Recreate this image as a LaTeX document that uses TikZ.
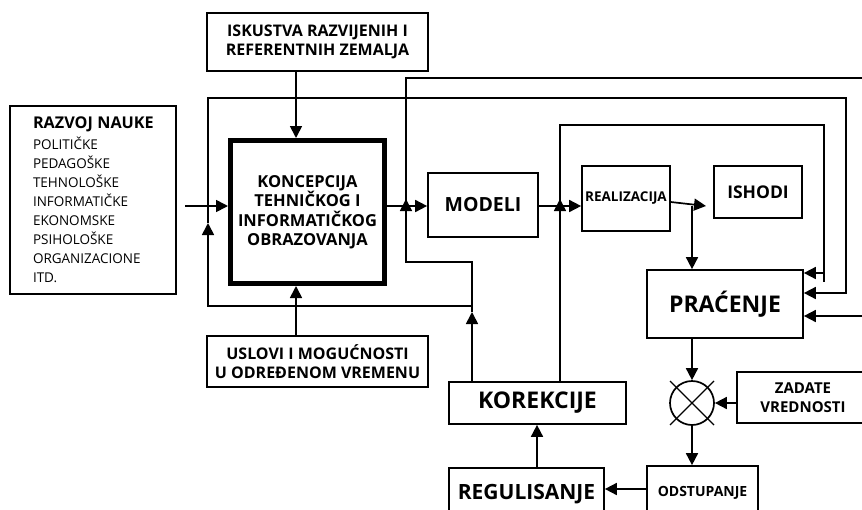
\documentclass[tikz,border=0pt]{standalone}
\usepackage{fontspec}
\setmainfont{Open Sans}
\usetikzlibrary{arrows.meta}
\begin{document}
\begin{tikzpicture}[x=1pt,y=-1pt,
  ln/.style={line width=1.7pt},
  box/.style={draw, ln, inner sep=0pt, align=center},
  arr/.style={ln, -{Triangle[length=12pt,width=12pt]}},
  fa/.style={font=\fontsize{16}{18.5}\selectfont\bfseries},
  fb/.style={font=\fontsize{23}{26}\selectfont\bfseries}
]
\useasboundingbox (0,0) rectangle (862,509);
\clip (0,0) rectangle (862,509);

% ---- blocks ----
\node[box, fa, minimum width=221pt, minimum height=58pt] (isk) at (317.5,42)
  {ISKUSTVA RAZVIJENIH I\\REFERENTNIH ZEMALJA};
\node[box, minimum width=166pt, minimum height=188pt, text width=130pt,
      inner xsep=18pt, align=left, font=\fontsize{13.5}{19}\selectfont] (raz) at (93,200)
  {\hspace*{5pt}{\fontsize{16.2}{19}\selectfont\bfseries RAZVOJ NAUKE}\\[2pt]
   \hspace*{5pt}POLITIČKE\\\hspace*{5pt}PEDAGOŠKE\\\hspace*{5pt}TEHNOLOŠKE\\
   \hspace*{5pt}INFORMATIČKE\\\hspace*{5pt}EKONOMSKE\\\hspace*{5pt}PSIHOLOŠKE\\
   \hspace*{5pt}ORGANIZACIONE\\\hspace*{5pt}ITD.};
\node[box, line width=5pt, minimum width=154pt, minimum height=143pt,
      font=\fontsize{16.5}{19.5}\selectfont\bfseries] (kon) at (307.5,212)
  {KONCEPCIJA\\TEHNIČKOG I\\INFORMATIČKOG\\OBRAZOVANJA};
\node[box, fa, minimum width=221pt, minimum height=51pt] (usl) at (317.5,361.5)
  {USLOVI I MOGUĆNOSTI\\U ODREĐENOM VREMENU};
\node[box, minimum width=110pt, minimum height=64pt,
      font=\fontsize{19.5}{22}\selectfont\bfseries] (mod) at (483,205) {MODELI};
\node[box, minimum width=88pt, minimum height=65pt,
      font=\fontsize{13.5}{16}\selectfont\bfseries] (rea) at (626,198.5) {REALIZACIJA};
\node[box, minimum width=88pt, minimum height=52pt,
      font=\fontsize{17.5}{20}\selectfont\bfseries] (ish) at (758,192) {ISHODI};
\node[box, fb, minimum width=156pt, minimum height=68pt] (pra) at (725,304) {PRAĆENJE};
\node[box, fb, minimum width=177pt, minimum height=42pt] (kor) at (537.5,403) {KOREKCIJE};
\node[box, minimum width=155pt, minimum height=52pt,
      font=\fontsize{21}{24}\selectfont\bfseries] (reg) at (526.5,494) {REGULISANJE};
\node[box, minimum width=111pt, minimum height=54pt,
      font=\fontsize{14}{16}\selectfont\bfseries] (ods) at (702.5,493) {ODSTUPANJE};
\node[box, minimum width=132pt, minimum height=51pt,
      font=\fontsize{15}{18.5}\selectfont\bfseries] (zad) at (803,397.5)
  {ZADATE\\VREDNOSTI};

% summing point
\node[draw, ln, circle, minimum size=44pt, inner sep=0pt] (sum) at (692,403) {};
\draw[line width=1.3pt] ([shift={(-22,-22)}]sum.center) -- ([shift={(22,22)}]sum.center)
                        ([shift={(-22,22)}]sum.center) -- ([shift={(22,-22)}]sum.center);

% ---- helper coordinates ----
\coordinate (xI) at (296,0);
\coordinate (xR) at (537,0);
\coordinate (yM) at (0,206);
\coordinate (inS) at (185,206);
\coordinate (yR) at (0,202);
\coordinate (tR) at (706,206);
\coordinate (jC) at (692,206);
\coordinate (k1) at (472,312);
\coordinate (b1) at (472,262);
\coordinate (b2) at (406,262);
\coordinate (aU) at (406,199);
\coordinate (jA) at (406,206);
\coordinate (t1) at (406,78);
\coordinate (t2) at (870,78);
\coordinate (k2) at (472,306);
\coordinate (l1) at (208,306);
\coordinate (l2) at (208,223);
\coordinate (l3) at (208,98);
\coordinate (r1) at (846,98);
\coordinate (r2) at (846,293);
\coordinate (xK) at (560,0);
\coordinate (bU) at (560,199);
\coordinate (jB) at (560,206);
\coordinate (m1) at (560,125);
\coordinate (m2) at (824,125);
\coordinate (m3) at (824,282);
\coordinate (m4) at (824,273);
\coordinate (dR) at (870,316);
\coordinate (yO) at (0,489);

% ---- forward connectors ----
\draw[arr] (xI |- isk.south) -- (xI |- kon.north);
\draw[arr] (xI |- usl.north) -- (xI |- kon.south);
\draw[arr] (inS) -- (inS -| kon.west);
\draw[arr] (yM -| kon.east) -- (yM -| mod.west);
\draw[arr] (yM -| mod.east) -- (yM -| rea.west);
\draw[arr] (yR -| rea.east) -- (tR);
\draw[arr] (jC) -- (jC |- pra.north);
\draw[arr] (sum.north |- pra.south) -- (sum.north);
\draw[arr] (sum.east -| zad.west) -- (sum.east);
\draw[arr] (sum.south) -- (sum.south |- ods.north);
\draw[arr] (yO -| ods.west) -- (yO -| reg.east);
\draw[arr] (xR |- reg.north) -- (xR |- kor.south);

% ---- feedback loops ----
\draw[arr] (k1 |- kor.north) -- (k1);
\draw[arr] (k1) -- (b1) -- (b2) -- (aU);
\draw[ln] (jA) -- (t1) -- (t2);
\draw[arr] (k2) -- (l1) -- (l2);
\draw[arr] (l2) -- (l3) -- (r1) -- (r2) -- (r2 -| pra.east);
\draw[arr] (xK |- kor.north) -- (bU);
\draw[ln] (jB) -- (m1) -- (m2) -- (m3);
\draw[arr] (m4) -- (m4 -| pra.east);
\draw[arr] (dR) -- (dR -| pra.east);
\end{tikzpicture}
\end{document}
